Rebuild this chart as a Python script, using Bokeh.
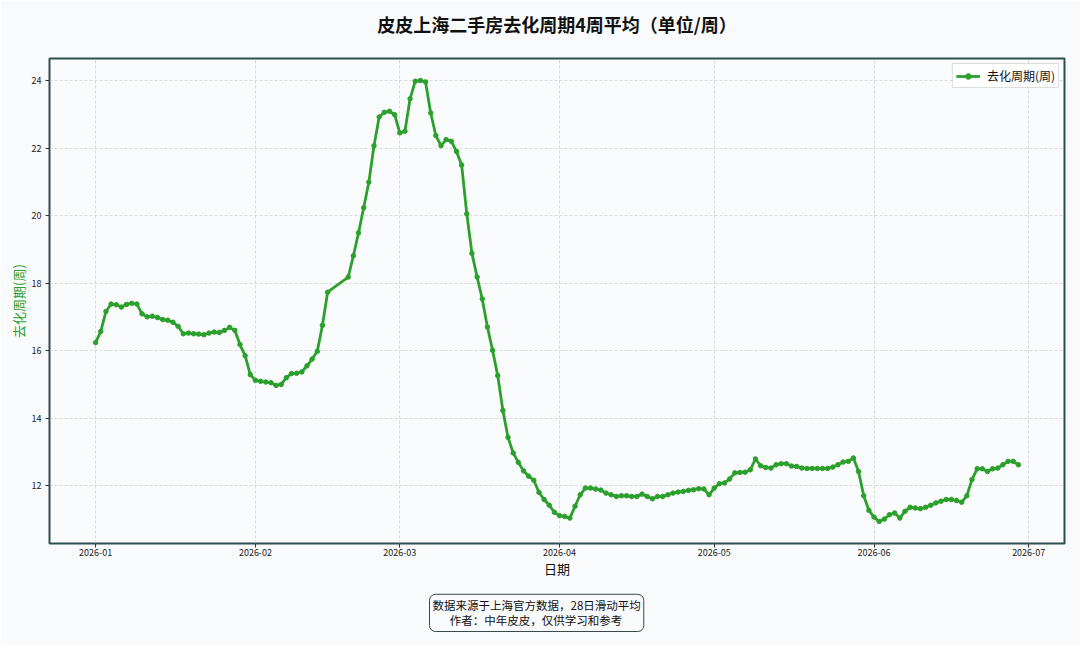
import pandas as pd
from bokeh.plotting import figure
from bokeh.models import Range1d, FixedTicker, DatetimeTickFormatter, Title, ColumnDataSource
from bokeh.embed import file_html
from bokeh.resources import INLINE

# ---------------- data ----------------
start_date = "2026-01-01"
end_date = "2026-06-29"
missing_dates = ["2026-02-16", "2026-02-17", "2026-02-18"]

values = [
    16.24, 16.57, 17.16, 17.38, 17.36, 17.29, 17.37, 17.40, 17.38, 17.09,
    17.00, 17.02, 16.98, 16.92, 16.90, 16.84, 16.72, 16.50, 16.52, 16.50,
    16.49, 16.47, 16.52, 16.55, 16.54, 16.60, 16.69, 16.60, 16.18, 15.85,
    15.29, 15.12, 15.09, 15.07, 15.05, 14.97, 15.00, 15.20, 15.32, 15.33,
    15.37, 15.55, 15.75, 15.98, 16.75, 17.73,
    18.18, 18.81, 19.49, 20.23, 20.99, 22.07, 22.92, 23.06, 23.09, 22.99,
    22.45, 22.50, 23.46, 23.98, 24.00, 23.96, 23.04, 22.37, 22.07, 22.25,
    22.20, 21.90, 21.50, 20.05, 18.88, 18.18, 17.53, 16.70, 16.01, 15.26,
    14.23, 13.43, 12.97, 12.69, 12.44, 12.28, 12.16, 11.80, 11.59, 11.42,
    11.21,
    11.11, 11.09, 11.04, 11.39, 11.73, 11.93, 11.93, 11.90, 11.87, 11.78,
    11.73, 11.68, 11.70, 11.70, 11.68, 11.68, 11.75, 11.68, 11.61, 11.68,
    11.68, 11.73, 11.78, 11.81, 11.83, 11.86, 11.88, 11.91, 11.90, 11.73,
    11.93, 12.06, 12.08, 12.20, 12.38, 12.39, 12.40, 12.47, 12.79, 12.59,
    12.54, 12.52, 12.62, 12.65, 12.65, 12.58, 12.57, 12.52, 12.51, 12.51,
    12.51, 12.51, 12.51, 12.55, 12.62, 12.70, 12.72, 12.82, 12.42, 11.70,
    11.27, 11.07, 10.94, 11.01, 11.14, 11.19, 11.04, 11.24, 11.36, 11.34,
    11.32, 11.36, 11.42, 11.49, 11.54, 11.59, 11.59, 11.56, 11.51, 11.70,
    12.18, 12.50, 12.50, 12.42, 12.50, 12.52, 12.62, 12.72, 12.72, 12.62,
]

x_tick_dates = ["2026-01-01", "2026-02-01", "2026-03-01", "2026-04-01",
                "2026-05-01", "2026-06-01", "2026-07-01"]
y_ticks = [12, 14, 16, 18, 20, 22, 24]

title_text = "皮皮上海二手房去化周期4周平均（单位/周）"
x_label = "日期"
y_label = "去化周期(周)"
series_name = "去化周期(周)"
footer_line1 = "数据来源于上海官方数据，28日滑动平均"
footer_line2 = "作者：中年皮皮，仅供学习和参考"

# ---------------- build ----------------
all_days = pd.date_range(start_date, end_date, freq="D")
dates = all_days[~all_days.isin(pd.to_datetime(missing_dates))]
assert len(dates) == len(values)
source = ColumnDataSource(data=dict(date=dates, value=values))

GREEN = "#2ca02c"
FONT = "Noto Sans CJK SC"

# matplotlib-like 5% autoscale margins
xmin, xmax = dates.min(), dates.max()
xpad = (xmax - xmin) * 0.05
ymin, ymax = min(values), max(values)
ypad = (ymax - ymin) * 0.05

p = figure(
    width=1080, height=645,
    x_axis_type="datetime",
    x_range=Range1d(xmin - xpad, xmax + xpad),
    y_range=Range1d(ymin - ypad, ymax + ypad),
    output_backend="svg", toolbar_location=None,
    min_border_left=49, min_border_right=16,
    min_border_top=58, min_border_bottom=102,
    background_fill_color="#fafbfc",
    border_fill_color="#f8fafb",
)

p.title.text = title_text
p.title.align = "center"
p.title.text_font = FONT
p.title.text_font_size = "18px"
p.title.text_font_style = "bold"
p.title.text_color = "#111111"
p.title.standoff = 0

# thin empty spacer between the title and the frame
spacer = Title(text=" ", text_font_size="1px", standoff=19)
p.add_layout(spacer, "above")

p.outline_line_color = "#2f4f4f"
p.outline_line_width = 2
p.outline_line_alpha = 1.0

p.line("date", "value", source=source, line_color=GREEN, line_width=2.8,
       legend_label=series_name)
p.scatter("date", "value", source=source, size=4.5, fill_color=GREEN,
          line_color=GREEN, legend_label=series_name)

# axes
tick_ms = [pd.Timestamp(d).value // 10**6 for d in x_tick_dates]
p.xaxis.ticker = FixedTicker(ticks=tick_ms)
p.xaxis.formatter = DatetimeTickFormatter(days="%Y-%m", months="%Y-%m", years="%Y-%m")
p.yaxis.ticker = FixedTicker(ticks=y_ticks)

for ax in (p.xaxis, p.yaxis):
    ax.axis_line_color = None
    ax.minor_tick_line_color = None
    ax.major_tick_line_color = "#333333"
    ax.major_tick_out = 4
    ax.major_tick_in = 0
    ax.major_label_text_font = FONT
    ax.major_label_text_font_size = "9px"
    ax.major_label_text_color = "#222222"
    ax.axis_label_text_font = FONT
    ax.axis_label_text_font_style = "normal"

p.xaxis.axis_label = x_label
p.xaxis.axis_label_text_font_size = "13px"
p.xaxis.axis_label_text_color = "#111111"
p.xaxis.axis_label_standoff = 0
p.xaxis.major_label_standoff = 1

p.yaxis.axis_label = y_label
p.yaxis.axis_label_text_font_size = "13px"
p.yaxis.axis_label_text_color = GREEN
p.yaxis.axis_label_standoff = 1
p.yaxis.major_label_standoff = 4

# grid
for g in (p.xgrid, p.ygrid):
    g.grid_line_color = "#c0c0c0"
    g.grid_line_alpha = 0.7
    g.grid_line_dash = "3 2"
    g.grid_line_width = 0.8

# legend
p.legend.location = "top_right"
p.legend.margin = 5
p.legend.padding = 3
p.legend.spacing = 0
p.legend.label_text_font = FONT
p.legend.label_text_font_size = "12px"
p.legend.label_text_color = "#111111"
p.legend.glyph_width = 24
p.legend.glyph_height = 14
p.legend.label_height = 14
p.legend.label_standoff = 7
p.legend.border_line_color = "#bbbbbb"
p.legend.border_line_width = 1
p.legend.background_fill_color = "#ffffff"
p.legend.background_fill_alpha = 1.0

# footer box below the x axis (second line nudged so both lines look centred)
footer = Title(
    text=footer_line1 + "\n\u3000\u2002" + footer_line2,
    align="left", offset=380,
    text_font=FONT, text_font_size="11.5px", text_color="#111111",
    text_font_style="normal", text_line_height=0.95,
    background_fill_color="#f8fafb", background_fill_alpha=1.0,
    border_line_color="#3a4a4a", border_line_width=1,
    padding=3, border_radius=6, standoff=24,
)
p.add_layout(footer, "below")

open("out.html", "w").write(file_html(p, INLINE))
